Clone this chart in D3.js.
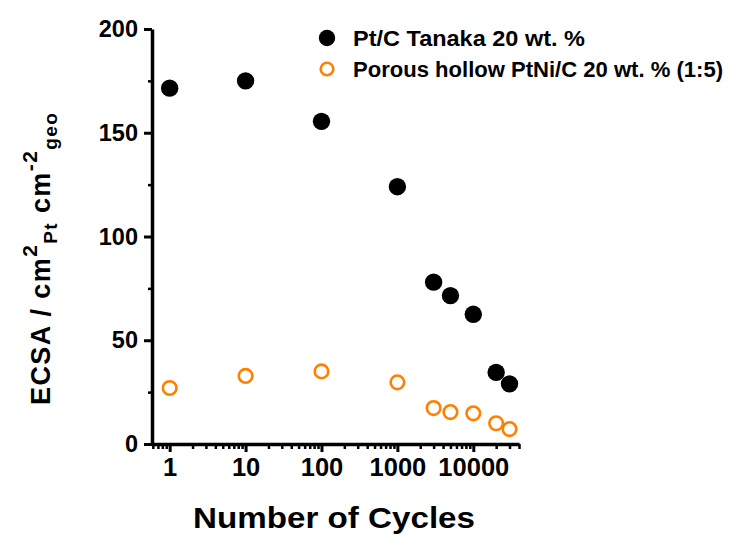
<!DOCTYPE html>
<html>
<head>
<meta charset="utf-8">
<script src="https://cdn.jsdelivr.net/npm/d3@7"></script>
<style>
  html, body { margin: 0; padding: 0; background: #fff; }
  svg { display: block; }
  text { font-family: Arial, "Liberation Sans", sans-serif; font-weight: bold; fill: #000; }
</style>
</head>
<body>
<svg id="chart" width="750" height="534"></svg>
<script>
// ---- data ----
const cycles = [1, 10, 100, 1000, 3000, 5000, 10000, 20000, 30000];
const ptcTanaka = [171.5, 175, 155.5, 124, 78, 71.5, 62.5, 34.5, 29];
const porousPtNi = [27, 32.8, 35, 29.7, 17.3, 15.4, 14.8, 10, 7.2];
const seriesNames = ["Pt/C Tanaka 20 wt. %", "Porous hollow PtNi/C 20 wt. % (1:5)"];
const xTickValues = [1, 10, 100, 1000, 10000];
const xTickLabels = ["1", "10", "100", "1000", "10000"];
const yTickValues = [0, 50, 100, 150, 200];
const yMinorValues = [25, 75, 125, 175];

const svg = d3.select("#chart");
svg.append("rect").attr("width", 750).attr("height", 534).attr("fill", "#fff");

const x = d3.scaleLog().domain([0.585, 40000]).range([152, 519]);
const y = d3.scaleLinear().domain([0, 200]).range([444, 29]);

// minor log ticks
const xMinor = [];
for (let e = -1; e <= 4; e++) {
  for (let k = 2; k <= 9; k++) {
    const v = k * Math.pow(10, e);
    if (v >= x.domain()[0] && v <= x.domain()[1]) xMinor.push(v);
  }
}

// x axis
const gx = svg.append("g").attr("transform", "translate(0,444)");
gx.call(d3.axisBottom(x).tickValues(xMinor).tickSize(5).tickSizeOuter(0).tickFormat(""));
gx.selectAll(".tick line").attr("stroke-width", 2.5);
gx.select(".domain").attr("stroke-width", 3.5);
const gx2 = svg.append("g").attr("transform", "translate(0,444)");
gx2.call(d3.axisBottom(x).tickValues(xTickValues).tickSize(8).tickSizeOuter(0)
  .tickFormat((d, i) => xTickLabels[i]).tickPadding(4));
gx2.select(".domain").remove();
gx2.selectAll(".tick line").attr("stroke-width", 3);
gx2.selectAll(".tick text").attr("font-size", 25.5).attr("dy", "0.8em")
  .style("font-family", "Arial, 'Liberation Sans', sans-serif").style("font-weight", "bold");

// y axis
const gy = svg.append("g").attr("transform", "translate(152,0)");
gy.call(d3.axisLeft(y).tickValues(yMinorValues).tickSize(4).tickSizeOuter(0).tickFormat(""));
gy.selectAll(".tick line").attr("stroke-width", 2.5);
gy.select(".domain").attr("stroke-width", 3.5);
const gy2 = svg.append("g").attr("transform", "translate(152,0)");
gy2.call(d3.axisLeft(y).tickValues(yTickValues).tickSize(8).tickSizeOuter(0).tickPadding(6));
gy2.select(".domain").remove();
gy2.selectAll(".tick line").attr("stroke-width", 3);
gy2.selectAll(".tick text").attr("font-size", 23.5)
  .style("font-family", "Arial, 'Liberation Sans', sans-serif").style("font-weight", "bold");

// data points
svg.append("g").selectAll("circle").data(cycles).join("circle")
  .attr("cx", d => x(d)).attr("cy", (d, i) => y(ptcTanaka[i]))
  .attr("r", 8.7).attr("fill", "#000");
svg.append("g").selectAll("circle").data(cycles).join("circle")
  .attr("cx", d => x(d)).attr("cy", (d, i) => y(porousPtNi[i]))
  .attr("r", 6.8).attr("fill", "none").attr("stroke", "#ff8000").attr("stroke-width", 2.6);

// legend
const leg = svg.append("g");
leg.append("circle").attr("cx", 327).attr("cy", 38).attr("r", 8.2).attr("fill", "#000");
leg.append("circle").attr("cx", 327).attr("cy", 69).attr("r", 6.3).attr("fill", "none")
  .attr("stroke", "#ff8000").attr("stroke-width", 2.6);
leg.append("text").attr("x", 353).attr("y", 46).attr("font-size", 22.5)
  .attr("textLength", 232).attr("lengthAdjust", "spacingAndGlyphs").text(seriesNames[0]);
leg.append("text").attr("x", 353).attr("y", 77).attr("font-size", 22.5)
  .attr("textLength", 370).attr("lengthAdjust", "spacingAndGlyphs").text(seriesNames[1]);

// x title
svg.append("text").attr("x", 193).attr("y", 528).attr("font-size", 30)
  .attr("textLength", 282).attr("lengthAdjust", "spacingAndGlyphs").text("Number of Cycles");

// y title
const yt = svg.append("text").attr("transform", "translate(50,405) rotate(-90)")
  .attr("font-size", 27).style("letter-spacing", "1.4px");
yt.append("tspan").text("ECSA / cm");
yt.append("tspan").attr("font-size", 21).attr("dy", -13).text("2");
yt.append("tspan").attr("font-size", 19).attr("dy", 20).text("Pt");
yt.append("tspan").attr("dy", -7).text(" cm");
yt.append("tspan").attr("font-size", 21).attr("dy", -13).text("-2");
yt.append("tspan").attr("font-size", 19).attr("dy", 20).text("geo");
</script>
</body>
</html>
